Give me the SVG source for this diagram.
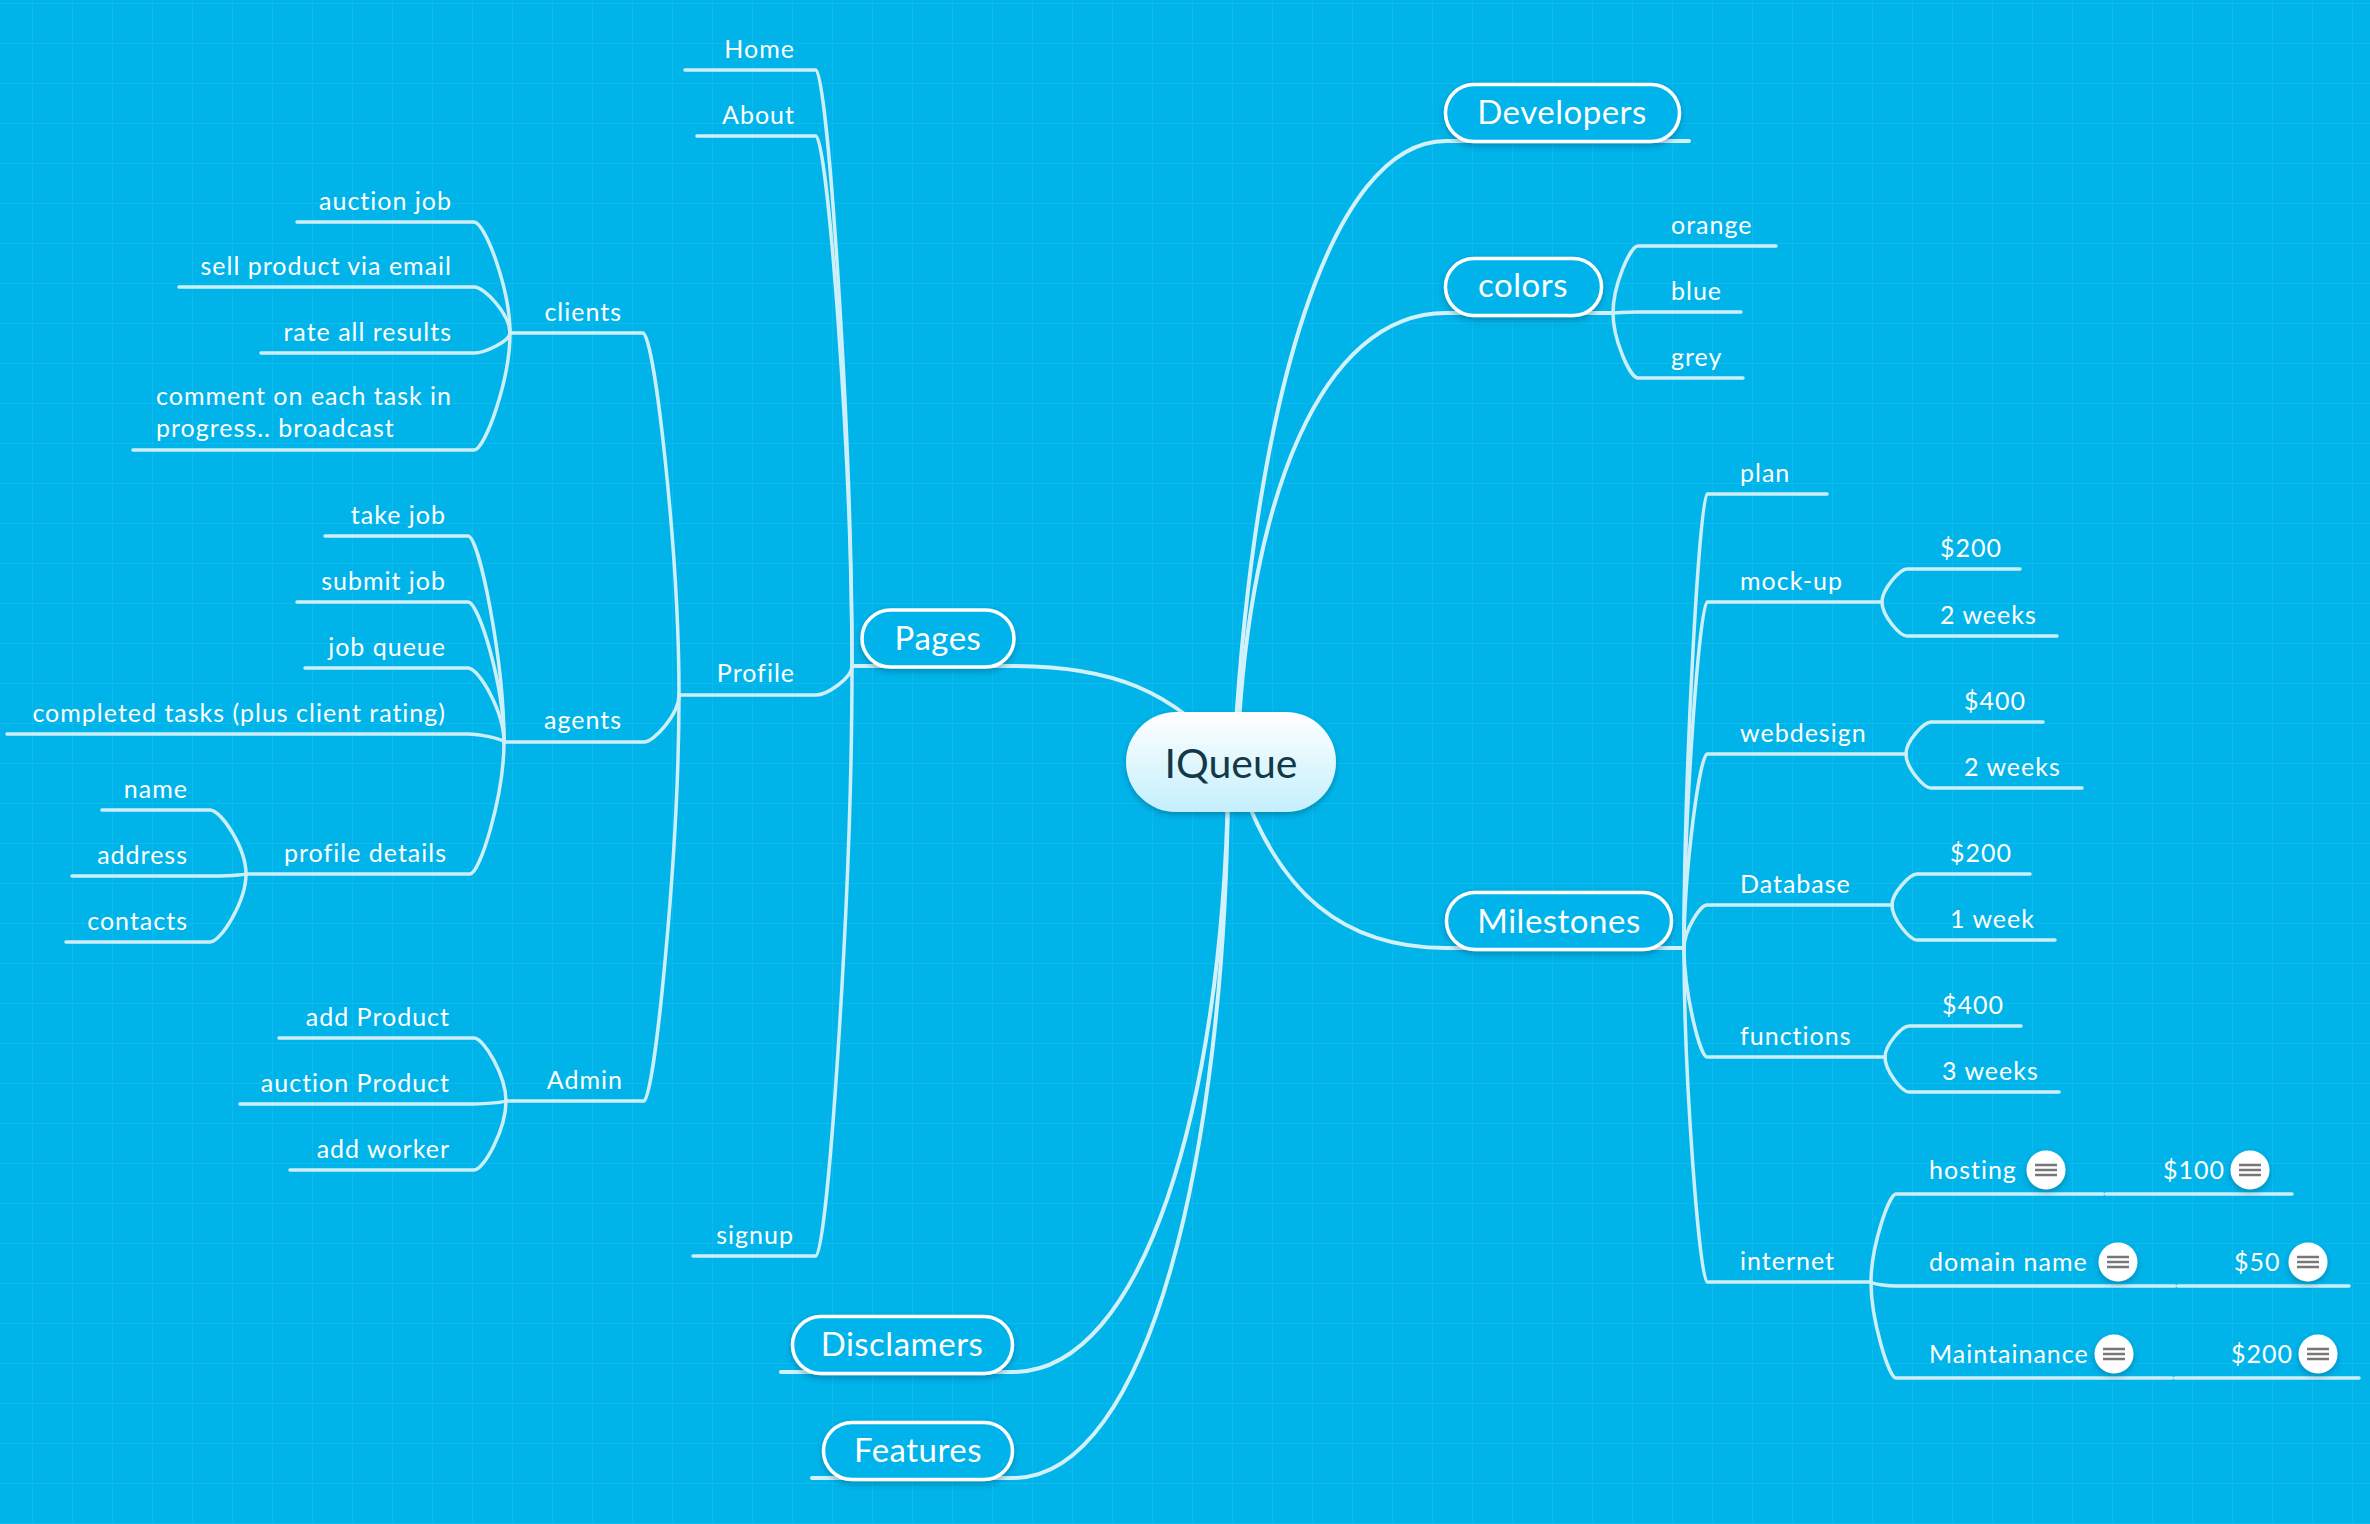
<svg xmlns="http://www.w3.org/2000/svg" xmlns:xlink="http://www.w3.org/1999/xlink" width="2370" height="1524" viewBox="0 0 2370 1524">
<style>
.ln{fill:none;stroke:#cdeffa;stroke-width:3.5;stroke-linecap:round;stroke-linejoin:round}
.mln{fill:none;stroke:#d2f1fb;stroke-width:4;stroke-linecap:round}
.t{font-family:Lato,"Noto Sans","Liberation Sans",sans-serif;font-size:25px;letter-spacing:1px;fill:#ffffff}
.e{text-anchor:end}
.mt{font-family:Lato,"Noto Sans","Liberation Sans",sans-serif;font-size:33px;letter-spacing:0.5px;fill:#ffffff;text-anchor:middle}
.box{fill:#00b3ea;stroke:#ffffff;stroke-width:3.5}
.nl{stroke:#777777;stroke-width:2.5;stroke-linecap:butt}
</style>
<defs>
<pattern id="grid" x="32" y="3" width="40" height="40" patternUnits="userSpaceOnUse">
<path d="M0 0 H40 M0 0 V40" stroke="#17c1f2" stroke-opacity="0.5" stroke-width="2" fill="none"/>
</pattern>
<linearGradient id="cg" x1="0" y1="0" x2="0" y2="1">
<stop offset="0" stop-color="#ffffff"/>
<stop offset="1" stop-color="#c4effc"/>
</linearGradient>
<filter id="sh" x="-20%" y="-30%" width="140%" height="170%">
<feDropShadow dx="0" dy="3" stdDeviation="3" flood-color="#003a55" flood-opacity="0.35"/>
</filter>
<g id="note">
<circle r="19.5" fill="#ffffff" filter="url(#sh)"/>
<path class="nl" d="M-11 -5 H11 M-11 0 H11 M-11 5 H11"/>
</g>
</defs>
<rect width="2370" height="1524" fill="#00b4ea"/>
<rect width="2370" height="1524" fill="url(#grid)"/>

<g id="connectors">
<path class="mln" d="M1013 666 C1110 666 1175 690 1231 760"/>
<path class="mln" d="M852 666 H1013"/>
<path class="mln" d="M1235 740 C1255 400 1330 141 1446 141 H1689"/>
<path class="mln" d="M1238 740 C1250 500 1320 313 1446 313 H1613"/>
<path class="mln" d="M1243 790 C1280 890 1340 948 1446 948 H1684"/>
<path class="mln" d="M1228 790 C1222 1100 1145 1372 1013 1372 H781"/>
<path class="mln" d="M1228 790 C1225 1150 1150 1478 1013 1478 H812"/>
<path class="ln" d="M852 666 C852 428 827 70 816 70 H685"/>
<path class="ln" d="M852 666 C852 454 827 136 816 136 H697"/>
<path class="ln" d="M852 666 C852 678 827 695 816 695 H679"/>
<path class="ln" d="M852 666 C852 902 827 1256 816 1256 H693"/>
<path class="ln" d="M679 695 C679 550 654 333 643 333 H510"/>
<path class="ln" d="M679 695 C679 714 654 742 644 742 H504"/>
<path class="ln" d="M679 695 C679 857 654 1101 644 1101 H506"/>
<path class="ln" d="M510 333 C510 289 485 222 474 222 H297"/>
<path class="ln" d="M510 333 C510 315 485 287 474 287 H179"/>
<path class="ln" d="M510 333 C510 341 485 353 474 353 H261"/>
<path class="ln" d="M510 333 C510 380 485 450 474 450 H133"/>
<path class="ln" d="M504 742 C504 660 479 536 468 536 H325"/>
<path class="ln" d="M504 742 C504 686 479 602 468 602 H297"/>
<path class="ln" d="M504 742 C504 712 479 668 468 668 H305"/>
<path class="ln" d="M504 742 C504 739 479 734 468 734 H7"/>
<path class="ln" d="M504 742 C504 795 480 874 470 874 H246"/>
<path class="ln" d="M246 874 C246 848 221 810 210 810 H102"/>
<path class="ln" d="M246 874 C246 875 221 876 210 876 H72"/>
<path class="ln" d="M246 874 C246 901 221 942 210 942 H66"/>
<path class="ln" d="M506 1101 C506 1076 484 1038 474 1038 H279"/>
<path class="ln" d="M506 1101 C506 1102 484 1104 474 1104 H240"/>
<path class="ln" d="M506 1101 C506 1129 484 1170 474 1170 H290"/>
<path class="ln" d="M1613 313 C1613 286 1630 246 1638 246 H1776"/>
<path class="ln" d="M1613 313 C1613 313 1630 312 1638 312 H1741"/>
<path class="ln" d="M1613 313 C1613 339 1630 378 1638 378 H1743"/>
<path class="ln" d="M1684 948 C1684 766 1700 494 1707 494 H1827"/>
<path class="ln" d="M1684 948 C1684 810 1700 602 1707 602 H1882"/>
<path class="ln" d="M1684 948 C1684 870 1700 754 1707 754 H1906"/>
<path class="ln" d="M1684 948 C1684 931 1700 905 1707 905 H1892"/>
<path class="ln" d="M1684 948 C1684 992 1700 1057 1707 1057 H1885"/>
<path class="ln" d="M1684 948 C1684 1082 1700 1282 1707 1282 H1871"/>
<path class="ln" d="M1882 602 C1882 589 1900 569 1907 569 H2020"/>
<path class="ln" d="M1882 602 C1882 616 1900 636 1907 636 H2057"/>
<path class="ln" d="M1906 754 C1906 741 1924 722 1931 722 H2043"/>
<path class="ln" d="M1906 754 C1906 768 1924 788 1931 788 H2082"/>
<path class="ln" d="M1892 905 C1892 893 1910 874 1917 874 H2030"/>
<path class="ln" d="M1892 905 C1892 919 1910 940 1917 940 H2055"/>
<path class="ln" d="M1885 1057 C1885 1045 1902 1026 1909 1026 H2021"/>
<path class="ln" d="M1885 1057 C1885 1071 1902 1092 1909 1092 H2059"/>
<path class="ln" d="M1871 1282 C1871 1247 1889 1194 1896 1194 H2103"/>
<path class="ln" d="M1871 1282 C1871 1284 1889 1286 1896 1286 H2175"/>
<path class="ln" d="M1871 1282 C1871 1320 1889 1378 1896 1378 H2172"/>
<path class="ln" d="M2106 1194 H2292"/>
<path class="ln" d="M2178 1286 H2349"/>
<path class="ln" d="M2175 1378 H2359"/>
</g>

<g id="node-central">
<rect x="1126" y="712" width="210" height="100" rx="50" fill="url(#cg)" filter="url(#sh)"/>
<text x="1231" y="778" font-family="Lato,'Noto Sans','Liberation Sans',sans-serif" font-size="41" fill="#12394a" text-anchor="middle">IQueue</text>
</g>

<g id="node-pages"><rect class="box" x="862" y="610" width="152" height="57" rx="28.5" filter="url(#sh)"/><text class="mt" x="938" y="650">Pages</text></g>
<g id="node-developers"><rect class="box" x="1445.5" y="84.5" width="234" height="57" rx="28.5" filter="url(#sh)"/><text class="mt" x="1562" y="124">Developers</text></g>
<g id="node-colors"><rect class="box" x="1445.5" y="258.5" width="156" height="57" rx="28.5" filter="url(#sh)"/><text class="mt" x="1523" y="297">colors</text></g>
<g id="node-milestones"><rect class="box" x="1446.5" y="892.5" width="225" height="57" rx="28.5" filter="url(#sh)"/><text class="mt" x="1559" y="933">Milestones</text></g>
<g id="node-disclamers"><rect class="box" x="792.5" y="1316.5" width="220" height="57" rx="28.5" filter="url(#sh)"/><text class="mt" x="902" y="1356">Disclamers</text></g>
<g id="node-features"><rect class="box" x="823.5" y="1422.5" width="189" height="57" rx="28.5" filter="url(#sh)"/><text class="mt" x="918" y="1462">Features</text></g>

<g id="node-home"><text class="t e" x="795" y="58">Home</text></g>
<g id="node-about"><text class="t e" x="795" y="124">About</text></g>
<g id="node-profile"><text class="t e" x="795" y="682">Profile</text></g>
<g id="node-signup"><text class="t e" x="794" y="1244">signup</text></g>
<g id="node-clients"><text class="t e" x="622" y="321">clients</text></g>
<g id="node-agents"><text class="t e" x="622" y="729">agents</text></g>
<g id="node-admin"><text class="t e" x="623" y="1089">Admin</text></g>
<g id="node-auction-job"><text class="t e" x="452" y="210">auction job</text></g>
<g id="node-sell-product"><text class="t e" x="452" y="275">sell product via email</text></g>
<g id="node-rate-results"><text class="t e" x="452" y="341">rate all results</text></g>
<g id="node-comment"><text class="t" x="156" y="405">comment on each task in</text><text class="t" x="156" y="437">progress.. broadcast</text></g>
<g id="node-take-job"><text class="t e" x="446" y="524">take job</text></g>
<g id="node-submit-job"><text class="t e" x="446" y="590">submit job</text></g>
<g id="node-job-queue"><text class="t e" x="446" y="656">job queue</text></g>
<g id="node-completed"><text class="t e" x="446" y="722">completed tasks (plus client rating)</text></g>
<g id="node-profile-details"><text class="t e" x="447" y="862">profile details</text></g>
<g id="node-name"><text class="t e" x="188" y="798">name</text></g>
<g id="node-address"><text class="t e" x="188" y="864">address</text></g>
<g id="node-contacts"><text class="t e" x="188" y="930">contacts</text></g>
<g id="node-add-product"><text class="t e" x="450" y="1026">add Product</text></g>
<g id="node-auction-product"><text class="t e" x="450" y="1092">auction Product</text></g>
<g id="node-add-worker"><text class="t e" x="450" y="1158">add worker</text></g>

<g id="node-orange"><text class="t" x="1671" y="234">orange</text></g>
<g id="node-blue"><text class="t" x="1671" y="300">blue</text></g>
<g id="node-grey"><text class="t" x="1671" y="366">grey</text></g>
<g id="node-plan"><text class="t" x="1740" y="482">plan</text></g>
<g id="node-mockup"><text class="t" x="1740" y="590">mock-up</text></g>
<g id="node-mockup-cost"><text class="t" x="1940" y="557">$200</text></g>
<g id="node-mockup-time"><text class="t" x="1940" y="624">2 weeks</text></g>
<g id="node-webdesign"><text class="t" x="1740" y="742">webdesign</text></g>
<g id="node-webdesign-cost"><text class="t" x="1964" y="710">$400</text></g>
<g id="node-webdesign-time"><text class="t" x="1964" y="776">2 weeks</text></g>
<g id="node-database"><text class="t" x="1740" y="893">Database</text></g>
<g id="node-database-cost"><text class="t" x="1950" y="862">$200</text></g>
<g id="node-database-time"><text class="t" x="1950" y="928">1 week</text></g>
<g id="node-functions"><text class="t" x="1740" y="1045">functions</text></g>
<g id="node-functions-cost"><text class="t" x="1942" y="1014">$400</text></g>
<g id="node-functions-time"><text class="t" x="1942" y="1080">3 weeks</text></g>
<g id="node-internet"><text class="t" x="1740" y="1270">internet</text></g>
<g id="node-hosting"><text class="t" x="1929" y="1179">hosting</text><use xlink:href="#note" href="#note" x="2046" y="1170"/></g>
<g id="node-hosting-cost"><text class="t" x="2163" y="1179">$100</text><use xlink:href="#note" href="#note" x="2250" y="1170"/></g>
<g id="node-domain"><text class="t" x="1929" y="1271">domain name</text><use xlink:href="#note" href="#note" x="2118" y="1262"/></g>
<g id="node-domain-cost"><text class="t" x="2234" y="1271">$50</text><use xlink:href="#note" href="#note" x="2308" y="1262"/></g>
<g id="node-maint"><text class="t" x="1929" y="1363">Maintainance</text><use xlink:href="#note" href="#note" x="2114" y="1354"/></g>
<g id="node-maint-cost"><text class="t" x="2231" y="1363">$200</text><use xlink:href="#note" href="#note" x="2318" y="1354"/></g>
</svg>
